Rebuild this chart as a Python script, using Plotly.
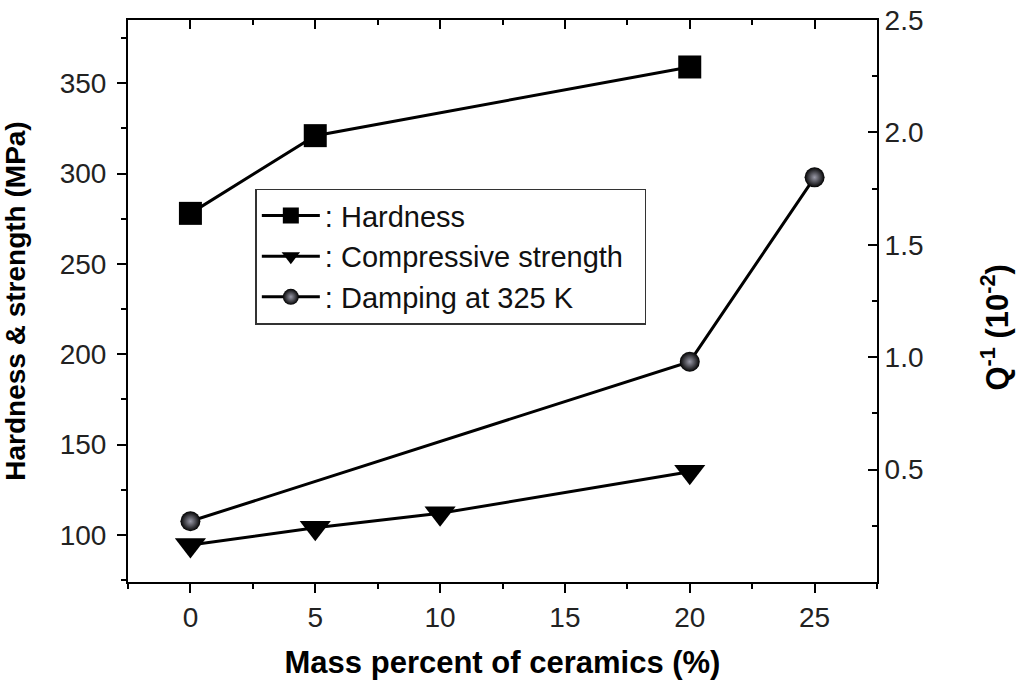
import plotly.graph_objects as go

# values
mass_hard = [0, 5, 20]
hardness = [278, 321, 359]

mass_comp = [0, 5, 10, 20]
compressive = [94.5, 104, 112, 135]

mass_damp = [0, 20, 25]
damping = [0.27, 0.98, 1.80]

q_ticks = [0.5, 1.0, 1.5, 2.0, 2.5]

FONT = "Liberation Sans, Arial, sans-serif"

fig = go.Figure()

fig.add_trace(go.Scatter(
    x=mass_hard, y=hardness, name=": Hardness", mode="lines+markers",
    line=dict(color="black", width=3),
    marker=dict(symbol="square", size=23, color="black"),
))
fig.add_trace(go.Scatter(
    x=mass_comp, y=compressive, name=": Compressive strength&nbsp;&nbsp;", mode="lines+markers",
    line=dict(color="black", width=3),
    marker=dict(symbol="triangle-down", size=27, color="black"),
))
fig.add_trace(go.Scatter(
    x=mass_damp, y=damping, name=": Damping at 325 K", mode="lines+markers",
    yaxis="y2",
    line=dict(color="black", width=3),
    marker=dict(symbol="circle", size=20, color="black",
                gradient=dict(type="radial", color="#9a9aa8")),
))
# invisible helper so the top mirror axis gets drawn
fig.add_trace(go.Scatter(x=[0], y=[200], xaxis="x2", mode="markers",
                         marker=dict(opacity=0), showlegend=False, hoverinfo="skip"))

fig.update_layout(
    width=1024, height=690,
    margin=dict(l=128, r=147, t=20, b=108),
    paper_bgcolor="white", plot_bgcolor="white",
    font=dict(family=FONT, color="black"),
    showlegend=True,
    legend=dict(
        x=0.17, y=0.70, xanchor="left", yanchor="top",
        bgcolor="white", bordercolor="#333", borderwidth=1.5,
        font=dict(size=29, family=FONT, color="#111"),
        tracegroupgap=0, itemwidth=58,
    ),
    xaxis=dict(
        range=[-2.5, 27.5], tick0=0, dtick=5, automargin=False,
        showline=True, linecolor="black", linewidth=2,
        ticks="outside", ticklen=9, tickwidth=2, tickcolor="black",
        minor=dict(ticks="outside", dtick=2.5, tick0=0, ticklen=5, tickwidth=2, tickcolor="black"),
        showgrid=False, zeroline=False, ticklabeloverflow="allow",
        tickfont=dict(size=28, color="#222"),
        title=dict(text="<b>Mass percent of ceramics (%)</b>", font=dict(size=31), standoff=20),
    ),
    xaxis2=dict(
        overlaying="x", side="top", matches="x", anchor="y", automargin=False,
        showline=True, linecolor="black", linewidth=2,
        ticks="inside", ticklen=9, tickwidth=2, tickcolor="black",
        minor=dict(ticks="inside", dtick=2.5, tick0=0, ticklen=5, tickwidth=2, tickcolor="black"),
        showticklabels=False, showgrid=False, zeroline=False,
        tick0=0, dtick=5,
    ),
    yaxis=dict(
        range=[74, 385], tick0=0, dtick=50, automargin=False,
        showline=True, linecolor="black", linewidth=2,
        ticks="outside", ticklen=9, tickwidth=2, tickcolor="black",
        minor=dict(ticks="outside", dtick=25, tick0=0, ticklen=5, tickwidth=2, tickcolor="black"),
        showgrid=False, zeroline=False, ticklabeloverflow="allow", ticklabelstandoff=5,
        tickfont=dict(size=28, color="#222"),
        title=dict(text="<b>Hardness & strength (MPa)</b>", font=dict(size=28), standoff=35),
    ),
    yaxis2=dict(
        overlaying="y", side="right", range=[0, 2.5], automargin=False,
        tickvals=q_ticks, ticktext=[f"{v:.1f}" for v in q_ticks],
        showline=True, linecolor="black", linewidth=2,
        ticks="inside", ticklen=9, tickwidth=2, tickcolor="black",
        minor=dict(ticks="inside", tickvals=[0.25, 0.75, 1.25, 1.75, 2.25],
                   ticklen=5, tickwidth=2, tickcolor="black"),
        showgrid=False, zeroline=False, ticklabeloverflow="allow",
        tickfont=dict(size=28, color="#222"),
    ),
    annotations=[dict(
        text="<b>Q<sup>-1</sup> (10<sup>-2</sup>)</b>", textangle=-90,
        xref="paper", yref="paper", x=1.157, y=0.452,
        xanchor="center", yanchor="middle", showarrow=False,
        font=dict(size=31, family=FONT, color="black"),
    )],
)

# drop the default 8px page margin so the figure fills the window exactly
fig.write_html("out.html", config={"displayModeBar": False},
               post_script="document.body.style.margin='0';document.body.style.overflow='hidden';")
